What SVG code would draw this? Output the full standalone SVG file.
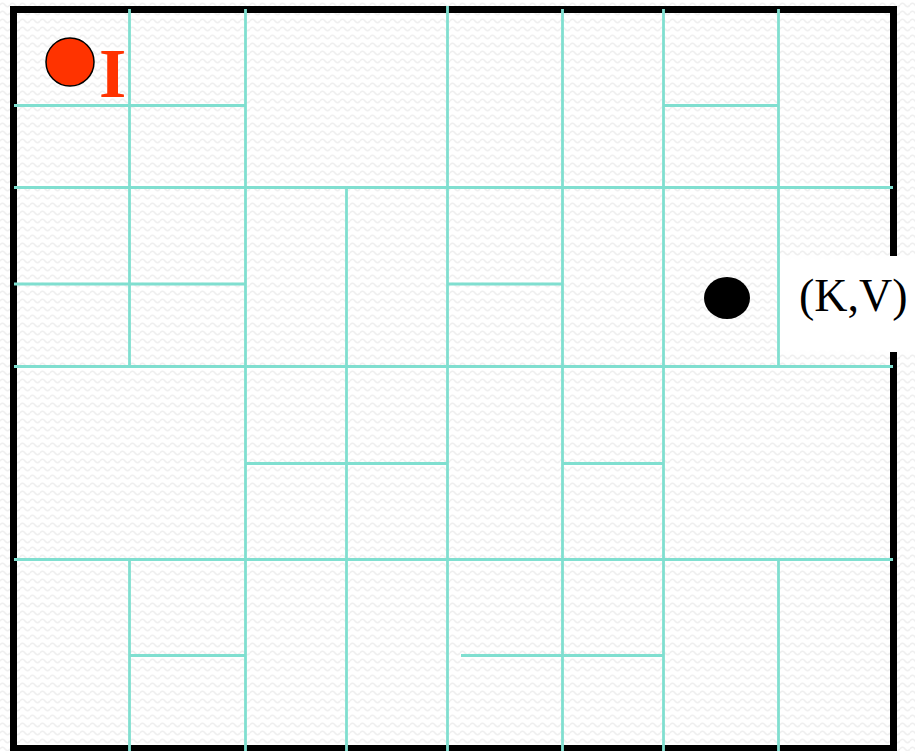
<svg xmlns="http://www.w3.org/2000/svg" width="915" height="751" viewBox="0 0 915 751">
  <defs>
    <pattern id="tex" width="10" height="8" patternUnits="userSpaceOnUse">
      <rect width="10" height="8" fill="#ffffff"/>
      <path d="M0,5 Q2.5,1.5 5,5 T10,5" fill="none" stroke="#efefef" stroke-width="1.6"/>
    </pattern>
    <style>
      .g { stroke: #80DFD0; stroke-width: 2.8; fill: none; stroke-linecap: butt; }
    </style>
  </defs>
  <rect x="0" y="0" width="915" height="751" fill="url(#tex)"/>
  <rect id="border" x="13.5" y="9.5" width="880" height="739" fill="none" stroke="#000000" stroke-width="7"/>
  <rect id="label-bg" x="780" y="256" width="135" height="96" fill="#ffffff"/>
  <g id="connectors">
    <line class="g" x1="129.5" y1="9" x2="129.5" y2="366.5"/>
    <line class="g" x1="129.5" y1="559.5" x2="129.5" y2="751"/>
    <line class="g" x1="245.5" y1="9" x2="245.5" y2="751"/>
    <line class="g" x1="346.5" y1="187.5" x2="346.5" y2="751"/>
    <line class="g" x1="447.5" y1="6" x2="447.5" y2="751"/>
    <line class="g" x1="562.5" y1="9" x2="562.5" y2="751"/>
    <line class="g" x1="663.5" y1="9" x2="663.5" y2="751"/>
    <line class="g" x1="778.5" y1="9" x2="778.5" y2="366.5"/>
    <line class="g" x1="778.5" y1="559.5" x2="778.5" y2="751"/>
    <line class="g" x1="14" y1="105.5" x2="245.5" y2="105.5"/>
    <line class="g" x1="663.5" y1="105.5" x2="778.5" y2="105.5"/>
    <line class="g" x1="14" y1="187.5" x2="893" y2="187.5"/>
    <line class="g" x1="14" y1="284" x2="245.5" y2="284"/>
    <line class="g" x1="447.5" y1="284" x2="562.5" y2="284"/>
    <line class="g" x1="14" y1="366.5" x2="893" y2="366.5"/>
    <line class="g" x1="245.5" y1="463.5" x2="447.5" y2="463.5"/>
    <line class="g" x1="562.5" y1="463.5" x2="663.5" y2="463.5"/>
    <line class="g" x1="14" y1="559.5" x2="893" y2="559.5"/>
    <line class="g" x1="129.5" y1="655.5" x2="245.5" y2="655.5"/>
    <line class="g" x1="461" y1="655.5" x2="663.5" y2="655.5"/>
  </g>
  <g id="node-I">
    <circle cx="70" cy="62" r="24" fill="#FF3300" stroke="#000000" stroke-width="1.5"/>
    <text x="99" y="97" font-family="'Liberation Serif', 'Times New Roman', serif" font-weight="bold" font-size="70" fill="#FF3300">I</text>
  </g>
  <g id="node-KV">
    <ellipse cx="727" cy="298" rx="23" ry="21" fill="#000000"/>
    <text x="799" y="311" font-family="'Liberation Serif', 'Times New Roman', serif" font-size="46" fill="#000000">(K,V)</text>
  </g>
</svg>
